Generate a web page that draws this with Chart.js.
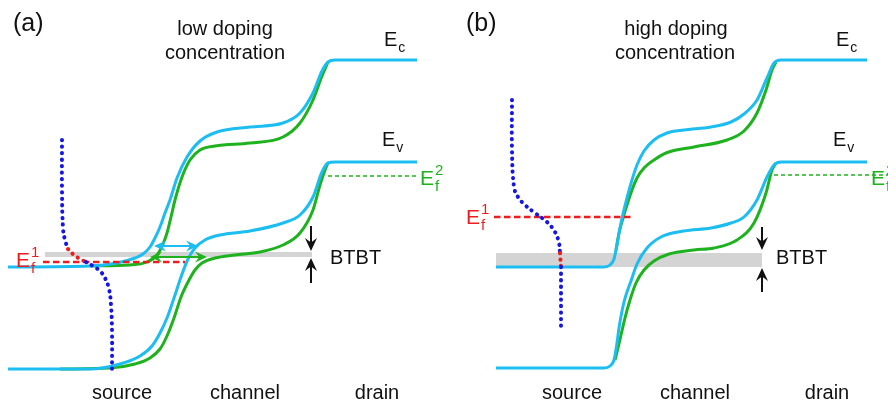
<!DOCTYPE html>
<html>
<head>
<meta charset="utf-8">
<script src="https://cdn.jsdelivr.net/npm/chart.js@4/dist/chart.umd.min.js"></script>
<style>
  html, body { margin: 0; padding: 0; background: #ffffff; overflow: hidden; }
  #wrap { display: flex; width: 888px; height: 407px; }
  canvas { display: block; }
</style>
</head>
<body>
<div id="wrap">
  <canvas id="panelA" width="444" height="407"></canvas>
  <canvas id="panelB" width="444" height="407"></canvas>
</div>
<script>
// Band profiles along the device: [position, energy] in arbitrary units.
// Panel (a): low source doping
const ecCyanA = [[8,140],[90,141],[117,144],[135,149],[143,153],[150,160],[155,169],[160,180],[165,194],[170,207],[177,229],[187,250],[200,266],[217,275],[250,280],[283,284],[300,294],[313,314],[322,336],[328,345],[335,347],[417,347]];
const ecGreenA = [[90,141],[130,142],[147,145],[157,152],[163,163],[167,174],[171,190],[175,207],[182,230],[190,247],[200,257],[215,261],[250,264],[283,270],[300,284],[313,307],[322,331],[328,345]];
const evCyanA = [[8,38],[90,38],[120,43],[140,51],[152,61],[160,74],[167,89],[174,109],[181,130],[188,148],[195,159],[205,167],[220,172],[250,176],[283,184],[300,192],[313,210],[322,235],[328,244],[335,245],[417,245]];
const evGreenA = [[60,38],[110,39],[135,43],[150,49],[160,58],[167,71],[174,89],[181,110],[188,125],[195,137],[202,144],[215,149],[235,152],[260,155],[283,162],[300,174],[313,197],[320,222],[325,237],[328,244]];
// Source carrier distribution (upper part, part inside the tunnelling window, lower part)
const distTopA = [[62,267],[62,217],[63,179],[65,167],[68,158]];
const distWinA = [[68,158],[74,152],[80,148],[86,145]];
const distLowA = [[86,145],[93,141],[100,136],[105,129],[109,118],[111,102],[112,77],[112,35]];
const windowA = { x: [45, 312], low: 150, high: 155 };
const ef1A = { x: [43, 185], e: 145 };
const ef2A = { x: [328, 418], e: 231 };

// Panel (b): high source doping
const ecCyanB = [[52,140],[160,140],[166,142],[170,148],[173,162],[176,179],[179,193],[183,209],[188,227],[193,242],[200,256],[210,267],[223,274],[240,277],[267,280],[287,285],[300,293],[313,307],[323,329],[330,344],[337,347],[423,347]];
const ecGreenB = [[172,157],[175,174],[179,189],[183,202],[188,217],[193,229],[200,239],[210,247],[222,254],[250,260],[283,267],[300,276],[313,294],[322,317],[328,337],[332,345]];
const evCyanB = [[52,39],[160,39],[166,41],[170,47],[173,64],[175,79],[180,105],[187,126],[193,143],[203,159],[217,170],[240,176],[267,179],[287,184],[300,190],[313,207],[323,230],[330,242],[337,245],[423,245]];
const evGreenB = [[171,47],[174,59],[177,72],[181,89],[186,107],[192,124],[200,137],[210,146],[225,153],[250,157],[270,159],[293,167],[310,184],[322,214],[328,237],[332,244]];
const distTopB = [[68,307],[68,257],[70,220],[74,210],[81,202],[91,194],[103,185],[111,175],[115,164],[116,154]];
const distWinB = [[116,154],[117,140]];
const distLowB = [[117,140],[117,80]];
const windowB = { x: [52, 318], low: 140, high: 154 };
const ef1B = { x: [50, 190], e: 190 };
const ef2B = { x: [330, 444], e: 232 };

const regionNames = ['source', 'channel', 'drain'];

const CYAN = '#1cbdf0', GREEN = '#1fb21f', RED = '#ee1d1d', BLUE = '#1616e4', GRAY = '#d4d4d4', INK = '#111111';
const FONT = '"Liberation Sans", Arial, Helvetica, sans-serif';

const pts = arr => arr.map(([x, y]) => ({ x, y }));

function bandLine(arr, color, order) {
  return { data: pts(arr), borderColor: color, borderWidth: 3, pointRadius: 0,
           cubicInterpolationMode: 'monotone', fill: false, order };
}
function dotted(arr, color, order) {
  return { data: pts(arr), borderColor: color, borderWidth: 4, pointRadius: 0, tension: 0.4,
           borderDash: [0.3, 6.2], borderCapStyle: 'round', fill: false, order };
}
function level(lv, color, width, dash, order) {
  return { data: lv.x.map(x => ({ x, y: lv.e })), borderColor: color, borderWidth: width,
           borderDash: dash, pointRadius: 0, fill: false, order };
}
function windowBand(w) {
  return [
    { data: w.x.map(x => ({ x, y: w.low })), borderWidth: 0, pointRadius: 0, fill: false, order: 100 },
    { data: w.x.map(x => ({ x, y: w.high })), borderWidth: 0, pointRadius: 0,
      backgroundColor: GRAY, fill: '-1', order: 99 }
  ];
}

// Arrows and text, placed in data units through the chart scales
const annotate = {
  id: 'annotate',
  afterDatasetsDraw(chart, args, opts) {
    const { ctx } = chart;
    const xs = chart.scales.x, ys = chart.scales.y;
    const X = v => xs.getPixelForValue(v), Y = v => ys.getPixelForValue(v);
    ctx.save();
    (opts.arrows || []).forEach(a => {
      const x1 = X(a.from[0]), y1 = Y(a.from[1]), x2 = X(a.to[0]), y2 = Y(a.to[1]);
      const ang = Math.atan2(y2 - y1, x2 - x1);
      const L = a.head || 10, W = a.half || 5;
      ctx.strokeStyle = a.color; ctx.fillStyle = a.color; ctx.lineWidth = a.width || 2;
      ctx.beginPath();
      const inset = L * 0.6;
      const sx = a.both ? x1 + Math.cos(ang) * inset : x1, sy = a.both ? y1 + Math.sin(ang) * inset : y1;
      ctx.moveTo(sx, sy);
      ctx.lineTo(x2 - Math.cos(ang) * inset, y2 - Math.sin(ang) * inset);
      ctx.stroke();
      const head = (tx, ty, th) => {
        ctx.beginPath();
        ctx.moveTo(tx, ty);
        ctx.lineTo(tx - L * Math.cos(th) + W * Math.sin(th), ty - L * Math.sin(th) - W * Math.cos(th));
        ctx.lineTo(tx - L * 0.65 * Math.cos(th), ty - L * 0.65 * Math.sin(th));
        ctx.lineTo(tx - L * Math.cos(th) - W * Math.sin(th), ty - L * Math.sin(th) + W * Math.cos(th));
        ctx.closePath();
        ctx.fill();
      };
      head(x2, y2, ang);
      if (a.both) head(x1, y1, ang + Math.PI);
    });
    ctx.textBaseline = 'alphabetic';
    (opts.labels || []).forEach(l => {
      const size = l.size || 20;
      ctx.fillStyle = l.color || INK;
      ctx.font = size + 'px ' + FONT;
      ctx.textAlign = l.align || 'left';
      const px = X(l.x), py = Y(l.y);
      ctx.fillText(l.text, px, py);
      if (l.sub || l.sup) {
        const w = ctx.measureText(l.text).width;
        const small = Math.round(size * 0.7);
        ctx.font = small + 'px ' + FONT;
        ctx.textAlign = 'left';
        if (l.sub) ctx.fillText(l.sub, px + w + 1, py + size * 0.3);
        if (l.sup) ctx.fillText(l.sup, px + w + 1, py - size * 0.5);
      }
    });
    ctx.restore();
  }
};

function makePanel(id, d) {
  const datasets = [
    ...windowBand(d.window),
    bandLine(d.ecGreen, GREEN, 20), bandLine(d.evGreen, GREEN, 19),
    bandLine(d.ecCyan, CYAN, 18), bandLine(d.evCyan, CYAN, 17),
    level(d.ef1, RED, 2.6, [6.5, 3.5], 10),
    level(d.ef2, GREEN, 1.4, [4, 3], 11),
    dotted(d.distTop, BLUE, 3), dotted(d.distWin, RED, 2), dotted(d.distLow, BLUE, 1)
  ];
  return new Chart(document.getElementById(id), {
    type: 'line',
    data: { datasets },
    options: {
      responsive: false, animation: false, events: [],
      layout: { padding: 0 },
      scales: {
        x: { type: 'linear', min: 0, max: 444, display: false },
        y: { type: 'linear', min: 0, max: 407, display: false }
      },
      plugins: {
        legend: { display: false }, tooltip: { enabled: false },
        annotate: { arrows: d.arrows, labels: d.labels }
      }
    },
    plugins: [annotate]
  });
}

makePanel('panelA', {
  ecCyan: ecCyanA, ecGreen: ecGreenA, evCyan: evCyanA, evGreen: evGreenA,
  distTop: distTopA, distWin: distWinA, distLow: distLowA,
  window: windowA, ef1: ef1A, ef2: ef2A,
  arrows: [
    { from: [154, 161], to: [198, 161], color: CYAN, both: true, width: 2, head: 12, half: 5.5 },
    { from: [150, 150], to: [207, 150], color: GREEN, both: true, width: 2.2, head: 12, half: 5.5 },
    { from: [311, 181], to: [311, 156], color: INK, width: 2, head: 13, half: 6 },
    { from: [311, 124], to: [311, 149], color: INK, width: 2, head: 13, half: 6 }
  ],
  labels: [
    { text: '(a)', x: 13, y: 376, size: 25 },
    { text: 'low doping', x: 225, y: 372, size: 20, align: 'center' },
    { text: 'concentration', x: 225, y: 348, size: 20, align: 'center' },
    { text: 'E', sub: 'c', x: 384, y: 361, size: 20 },
    { text: 'E', sub: 'v', x: 382, y: 261, size: 20 },
    { text: 'E', sub: 'f', sup: '2', x: 420, y: 222, size: 21, color: GREEN },
    { text: 'E', sub: 'f', sup: '1', x: 16, y: 140, size: 21, color: RED },
    { text: 'BTBT', x: 330, y: 143, size: 20 },
    { text: regionNames[0], x: 122, y: 8, size: 20, align: 'center' },
    { text: regionNames[1], x: 245, y: 8, size: 20, align: 'center' },
    { text: regionNames[2], x: 377, y: 8, size: 20, align: 'center' }
  ]
});

makePanel('panelB', {
  ecCyan: ecCyanB, ecGreen: ecGreenB, evCyan: evCyanB, evGreen: evGreenB,
  distTop: distTopB, distWin: distWinB, distLow: distLowB,
  window: windowB, ef1: ef1B, ef2: ef2B,
  arrows: [
    { from: [318, 180], to: [318, 157], color: INK, width: 2, head: 13, half: 6 },
    { from: [318, 115], to: [318, 139], color: INK, width: 2, head: 13, half: 6 }
  ],
  labels: [
    { text: '(b)', x: 22, y: 376, size: 25 },
    { text: 'high doping', x: 232, y: 372, size: 20, align: 'center' },
    { text: 'concentration', x: 231, y: 348, size: 20, align: 'center' },
    { text: 'E', sub: 'c', x: 392, y: 361, size: 20 },
    { text: 'E', sub: 'v', x: 389, y: 261, size: 20 },
    { text: 'E', sub: 'f', sup: '2', x: 427, y: 222, size: 21, color: GREEN },
    { text: 'E', sub: 'f', sup: '1', x: 22, y: 183, size: 21, color: RED },
    { text: 'BTBT', x: 332, y: 143, size: 20 },
    { text: regionNames[0], x: 128, y: 8, size: 20, align: 'center' },
    { text: regionNames[1], x: 251, y: 8, size: 20, align: 'center' },
    { text: regionNames[2], x: 383, y: 8, size: 20, align: 'center' }
  ]
});
</script>
</body>
</html>
